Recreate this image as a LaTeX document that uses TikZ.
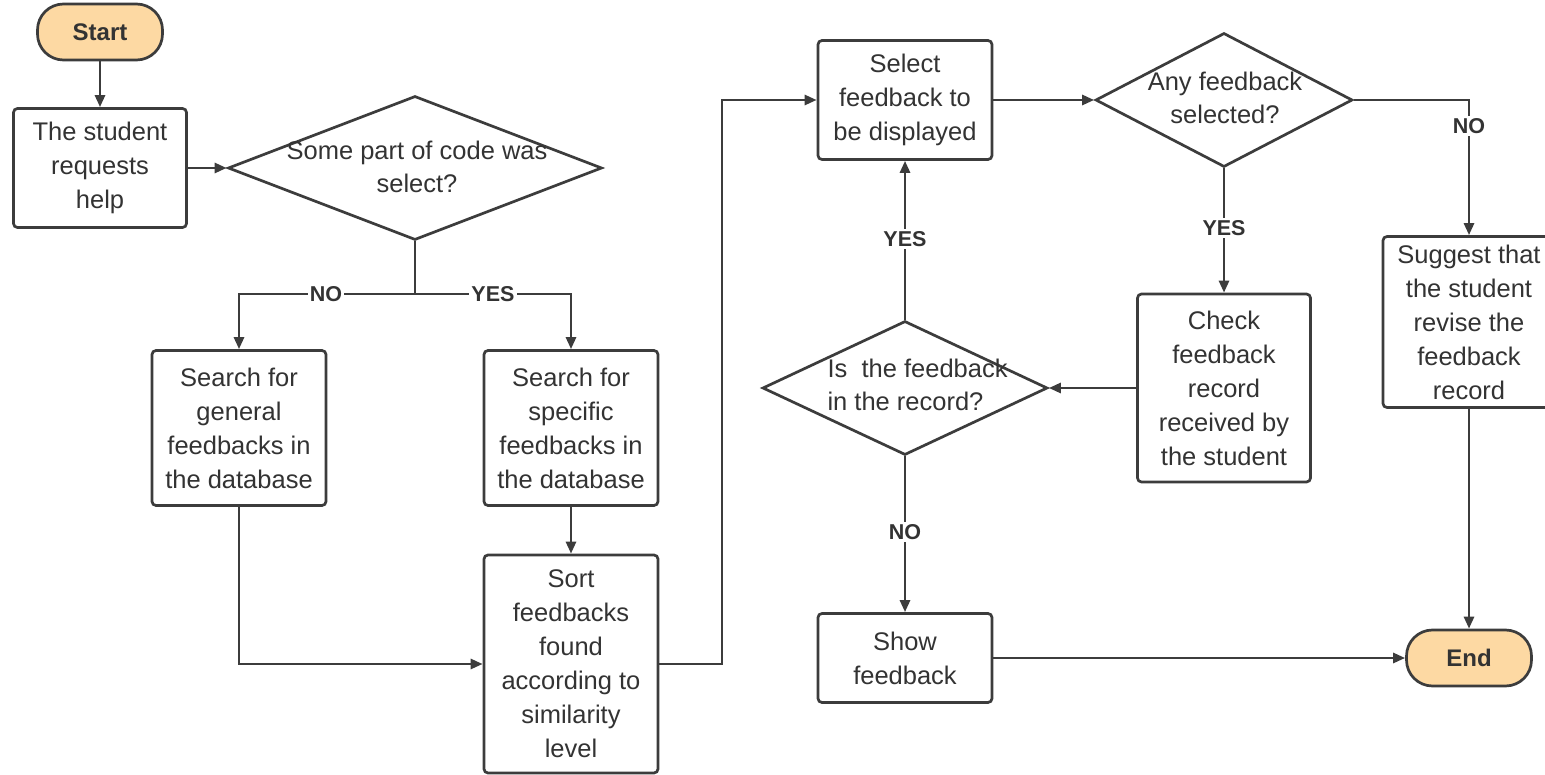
\documentclass[tikz,border=0pt]{standalone}
\usepackage{fontspec}
\setmainfont{Liberation Sans}
\usetikzlibrary{shapes.geometric,arrows.meta}
\definecolor{ink}{HTML}{3C3C3C}
\definecolor{txt}{HTML}{333333}
\definecolor{term}{HTML}{FDD9A3}
\tikzset{
  every node/.style={text=txt},
  stepbox/.style={draw=ink, line width=2.7pt, rounded corners=4pt, fill=white,
    align=center, inner sep=0pt, font=\fontsize{25.5}{34}\selectfont},
  terminal/.style={draw=ink, line width=2.7pt, rounded corners=26pt, fill=term,
    minimum width=125pt, minimum height=56pt, inner sep=0pt,
    font=\fontsize{24}{28}\selectfont\bfseries},
  decision/.style={draw=ink, line width=2.7pt, diamond, fill=white, inner sep=0pt},
  dtext/.style={align=center, font=\fontsize{25.5}{33}\selectfont},
  arr/.style={draw=ink, line width=2.7pt, -{Triangle[length=12pt,width=10pt]}},
  line/.style={draw=ink, line width=2.7pt},
  tag/.style={fill=white, inner sep=2pt, font=\fontsize{21.5}{23}\selectfont\bfseries}
}
\begin{document}
\begin{tikzpicture}[x=1pt,y=-1pt]
\useasboundingbox (0,0) rectangle (1545,775);
\fill[white] (0,0) rectangle (1545,775);

% terminals
\node[terminal] (start) at (100,32) {Start};
\node[terminal] (end) at (1469,658) {End};

% process boxes
\node[stepbox, minimum width=173pt, minimum height=119pt] (req) at (100,168)
  {The student\\requests\\help};
\node[stepbox, minimum width=174pt, minimum height=155pt] (gen) at (239,428)
  {Search for\\general\\feedbacks in\\the database};
\node[stepbox, minimum width=174pt, minimum height=155pt] (spec) at (571,428)
  {Search for\\specific\\feedbacks in\\the database};
\node[stepbox, minimum width=174pt, minimum height=218pt] (sort) at (571,664)
  {Sort\\feedbacks\\found\\according to\\similarity\\level};
\node[stepbox, minimum width=174pt, minimum height=119pt] (sel) at (905,100)
  {Select\\feedback to\\be displayed};
\node[stepbox, minimum width=173pt, minimum height=188pt] (chk) at (1224,388)
  {Check\\feedback\\record\\received by\\the student};
\node[stepbox, minimum width=172pt, minimum height=171pt] (sug) at (1469,322)
  {Suggest that\\the student\\revise the\\feedback\\record};
\node[stepbox, minimum width=174pt, minimum height=89pt] (show) at (905,658)
  {Show\\feedback};

% decisions
\node[decision, minimum width=374pt, minimum height=144pt] (d1) at (415,168) {};
\node[dtext] (d1t) at (417,167) {Some part of code was\\select?};
\node[decision, minimum width=257pt, minimum height=134pt] (d2) at (1224,100) {};
\node[dtext] (d2t) at (1225,98) {Any feedback\\selected?};
\node[decision, minimum width=285pt, minimum height=134pt] (d3) at (905,388) {};
\node[dtext, align=left, anchor=west] (d3t) at (824,385) {Is~~the feedback\\in the record?};

% junctions
\coordinate (split) at (415,294);
\coordinate (c1) at (722,380);

% connectors
\draw[arr] (start) -- (req);
\draw[arr] (req.east) -- (d1.west);
\draw[line] (d1.south) -- (split);
\draw[arr] (split) -| (gen.north);
\draw[arr] (split) -| (spec.north);
\draw[arr] (spec) -- (sort);
\draw[arr] (gen.south) |- (sort.west);
\draw[arr] (sort.east) -| (c1) |- (sel.west);
\draw[arr] (sel.east) -- (d2.west);
\draw[arr] (d2.east) -| (sug.north);
\draw[arr] (d2.south) -- (chk.north);
\draw[arr] (chk.west) -- (d3.east);
\draw[arr] (d3.north) -- (sel.south);
\draw[arr] (d3.south) -- (show.north);
\draw[arr] (sug.south) -- (end.north);
\draw[arr] (show.east) -- (end.west);

% branch labels
\node[tag] (tno1) at (326,294) {NO};
\node[tag] (tyes1) at (493,294) {YES};
\node[tag] (tno2) at (1469,126) {NO};
\node[tag] (tyes2) at (1224,228) {YES};
\node[tag] (tyes3) at (905,239) {YES};
\node[tag] (tno3) at (905,532) {NO};
\end{tikzpicture}
\end{document}
